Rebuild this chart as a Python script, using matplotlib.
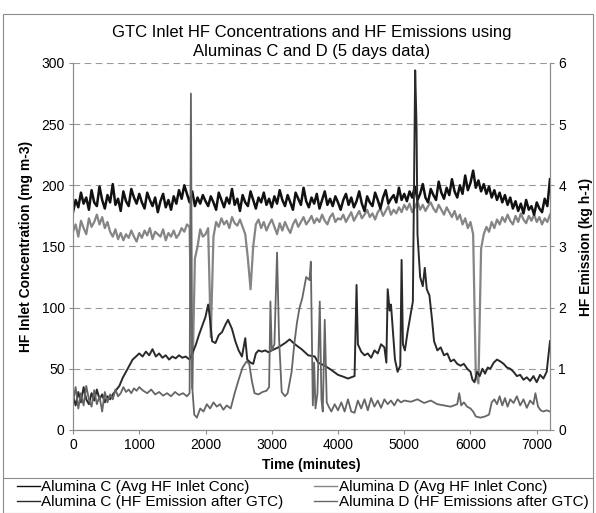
import numpy as np
import matplotlib
matplotlib.use("Agg")
import matplotlib.pyplot as plt
from matplotlib.lines import Line2D
from matplotlib.patches import Rectangle

plt.rcParams['font.family'] = ['Liberation Sans', 'DejaVu Sans']

# DATA
# inlet concentrations (mg m-3), one reading every 40 minutes
inlet_t = np.arange(0, 7201, 40)
inlet_c = [
    178, 188, 182, 194, 185, 190, 180, 196, 186, 183, 199, 188, 181, 192, 186, 201, 184, 189, 179, 195, 187, 183, 197, 190, 185, 193,
    186, 181, 194, 188, 183, 190, 178, 187, 193, 182, 188, 180, 191, 185, 196, 189, 200, 193, 186, 195, 183, 190, 185, 192, 187,
    183, 191, 186, 180, 194, 188, 182, 190, 185, 197, 184, 189, 179, 192, 186, 183, 195, 188, 181, 190, 186, 194, 184, 189, 182,
    191, 185, 196, 188, 183, 192, 186, 180, 194, 189, 184, 198, 187, 182, 190, 185, 193, 181, 188, 195, 184, 189, 183, 191, 186,
    180, 188, 193, 184, 190, 182, 187, 195, 185, 179, 191, 186, 183, 194, 188, 181, 190, 196, 185, 189, 192, 186, 198, 188, 193,
    187, 195, 190, 199, 188, 193, 201, 190, 186, 197, 192, 188, 203, 194, 189, 198, 192, 205, 195, 190, 200, 193, 208, 196, 202,
    212, 198, 204, 195, 201, 193, 199, 190, 196, 188, 194, 186, 192, 184, 190, 181, 187, 179, 185, 177, 188, 180, 183, 176, 186,
    181, 178, 189, 183, 205,
]
inlet_d = [
    162, 168, 158, 171, 165, 160, 173, 166, 170, 176, 168, 174, 165, 170, 162, 158, 164, 156, 161, 155, 160, 157, 163, 158, 154, 161,
    157, 163, 159, 165, 156, 162, 160, 158, 164, 155, 161, 158, 163, 157, 160, 165, 162, 168, 166, 34, 140, 150, 164, 158, 160,
    165, 76, 158, 170, 166, 173, 168, 171, 165, 174, 169, 167, 172, 166, 160, 140, 115, 150, 168, 172, 165, 170, 163, 168, 172,
    166, 160, 169, 163, 170, 165, 161, 168, 172, 166, 170, 174, 168, 171, 175, 169, 173, 170, 176, 171, 168, 174, 177, 170, 173,
    172, 176, 170, 174, 178, 171, 175, 179, 173, 176, 180, 174, 177, 172, 178, 181, 175, 179, 183, 176, 180, 177, 182, 178, 184,
    180, 185, 178, 182, 187, 180, 184, 179, 183, 186, 181, 178, 184, 180, 176, 182, 178, 174, 179, 172, 176, 168, 173, 165, 170,
    160, 45, 38, 148, 160, 166, 162, 170, 165, 172, 168, 174, 170, 176, 171, 168, 175, 170, 177, 172, 169, 175, 171, 176, 170,
    174, 168, 173, 170, 176,
]

# HF emissions after GTC (kg h-1)
emis_c_t = [
    0, 40, 80, 120, 160, 200, 240, 280, 320, 360,
    400, 440, 480, 520, 560, 600, 650, 700, 750, 800,
    850, 900, 950, 1000, 1050, 1100, 1150, 1200, 1250, 1300,
    1350, 1400, 1450, 1500, 1550, 1600, 1650, 1700, 1760, 1800,
    1850, 1900, 1950, 2000, 2040, 2070, 2100, 2150, 2200, 2250,
    2300, 2340, 2400, 2450, 2500, 2550, 2600, 2630, 2680, 2720,
    2760, 2800, 2850, 2900, 2950, 3000, 3100, 3200, 3270, 3350,
    3450, 3550, 3650, 3700, 3800, 3900, 4000, 4080, 4150, 4250,
    4280, 4300, 4350, 4400, 4450, 4500, 4550, 4600, 4650, 4700,
    4730, 4750, 4780, 4800, 4830, 4860, 4900, 4940, 4960, 4980,
    5010, 5050, 5090, 5130, 5165, 5185, 5200, 5240, 5280, 5310,
    5340, 5380, 5420, 5450, 5500, 5550, 5600, 5650, 5700, 5750,
    5800, 5850, 5900, 5950, 6000, 6030, 6060, 6100, 6140, 6180,
    6220, 6260, 6300, 6350, 6400, 6450, 6500, 6550, 6600, 6650,
    6700, 6750, 6800, 6850, 6900, 6950, 7000, 7050, 7100, 7150,
    7200,
]
emis_c = [
    0.55, 0.40, 0.62, 0.45, 0.70, 0.50, 0.42, 0.60, 0.48, 0.66,
    0.50, 0.58, 0.45, 0.55, 0.50, 0.58, 0.65, 0.72, 0.85, 0.95,
    1.05, 1.15, 1.20, 1.25, 1.20, 1.28, 1.22, 1.32, 1.20, 1.25,
    1.18, 1.22, 1.15, 1.20, 1.17, 1.22, 1.18, 1.20, 1.15, 1.25,
    1.38, 1.55, 1.70, 1.85, 2.05, 1.80, 1.45, 1.42, 1.55, 1.60,
    1.72, 1.80, 1.65, 1.45, 1.30, 1.20, 1.50, 1.15, 1.10, 1.08,
    1.25, 1.30, 1.28, 1.30, 1.27, 1.30, 1.35, 1.42, 1.48, 1.40,
    1.32, 1.22, 1.20, 1.10, 1.05, 0.98, 0.90, 0.87, 0.84, 0.88,
    2.37, 1.40, 1.28, 1.22, 1.25, 1.18, 1.30, 1.25, 1.40, 1.35,
    1.10, 2.30, 1.95, 2.05, 1.60, 1.15, 0.95, 1.05, 2.78, 1.40,
    1.30, 1.60, 1.85, 2.10, 5.88, 5.00, 3.20, 2.50, 2.35, 2.65,
    2.30, 2.20, 1.80, 1.45, 1.30, 1.35, 1.22, 1.25, 1.12, 1.15,
    1.08, 1.05, 1.08, 1.00, 0.95, 0.82, 0.78, 0.95, 0.88, 1.00,
    0.92, 1.02, 1.00, 1.10, 1.15, 1.12, 1.08, 1.02, 1.00, 0.95,
    0.88, 0.90, 0.82, 0.86, 0.80, 0.88, 0.78, 0.90, 0.84, 0.95,
    1.45,
]
emis_d_t = [
    0, 40, 80, 120, 160, 200, 240, 280, 320, 360,
    400, 440, 480, 520, 560, 600, 640, 680, 720, 760,
    800, 840, 880, 920, 960, 1000, 1060, 1120, 1180, 1240,
    1300, 1360, 1420, 1480, 1540, 1600, 1660, 1720, 1760, 1780,
    1800, 1830, 1870, 1920, 1970, 2020, 2070, 2120, 2170, 2220,
    2270, 2320, 2380, 2440, 2500, 2560, 2620, 2660, 2700, 2740,
    2800, 2860, 2920, 2960, 2980, 3000, 3040, 3080, 3110, 3150,
    3200, 3240, 3300, 3340, 3380, 3420, 3460, 3520, 3570, 3590,
    3620, 3640, 3660, 3690, 3725, 3750, 3770, 3800, 3830, 3860,
    3900, 3950, 4000, 4050, 4100, 4150, 4200, 4250, 4300, 4350,
    4400, 4450, 4500, 4550, 4600, 4650, 4700, 4750, 4800, 4850,
    4900, 4950, 5000, 5100, 5200, 5300, 5400, 5500, 5600, 5700,
    5800, 5830, 5860, 5900, 5950, 6000, 6040, 6080, 6150, 6220,
    6280, 6320, 6360, 6400, 6440, 6480, 6520, 6560, 6600, 6650,
    6700, 6750, 6800, 6850, 6900, 6950, 6980, 7020, 7060, 7100,
    7150, 7200,
]
emis_d = [
    0.45, 0.70, 0.35, 0.60, 0.40, 0.72, 0.50, 0.38, 0.65, 0.42,
    0.55, 0.30, 0.62, 0.45, 0.58, 0.50, 0.66, 0.55, 0.60, 0.70,
    0.62, 0.66, 0.60, 0.68, 0.64, 0.70, 0.64, 0.60, 0.66, 0.58,
    0.62, 0.56, 0.60, 0.55, 0.62, 0.57, 0.60, 0.55, 0.60, 5.50,
    0.70, 0.25, 0.20, 0.35, 0.30, 0.42, 0.35, 0.45, 0.38, 0.42,
    0.33, 0.40, 0.35, 0.60, 0.82, 1.02, 1.12, 1.08, 0.80, 0.60,
    0.58, 0.62, 0.64, 0.70, 2.10, 1.30, 1.40, 2.90, 1.50, 0.62,
    0.55, 0.60, 0.95, 1.40, 1.75, 2.00, 2.15, 2.50, 2.45, 2.75,
    0.40, 1.10, 0.35, 0.60, 2.10, 0.50, 0.30, 1.80, 0.45, 0.38,
    0.30, 0.42, 0.32, 0.45, 0.30, 0.50, 0.30, 0.28, 0.48, 0.35,
    0.50, 0.32, 0.52, 0.38, 0.48, 0.36, 0.50, 0.42, 0.48, 0.40,
    0.50, 0.45, 0.48, 0.46, 0.50, 0.44, 0.48, 0.42, 0.40, 0.38,
    0.42, 0.60, 0.40, 0.45, 0.38, 0.35, 0.30, 0.22, 0.20, 0.22,
    0.25, 0.45, 0.50, 0.42, 0.55, 0.40, 0.52, 0.38, 0.50, 0.44,
    0.55, 0.40, 0.50, 0.36, 0.48, 0.42, 0.60, 0.38, 0.32, 0.30,
    0.32, 0.30,
]

labels = ["Alumina C (Avg HF Inlet Conc)", "Alumina C (HF Emission after GTC)",
          "Alumina D (Avg HF Inlet Conc)", "Alumina D (HF Emissions after GTC)"]


# FIGURE
fig = plt.figure(figsize=(5.96, 5.13), dpi=100)
ax = fig.add_axes([0.1225, 0.162, 0.8003, 0.7152])
ax2 = ax.twinx()

# inlet concentrations on the left axis
l1, = ax.plot(inlet_t, inlet_c, color='#111111', lw=1.8, zorder=3)
l3, = ax.plot(inlet_t, inlet_d, color='#858585', lw=1.6, zorder=2)
# emissions on the right axis
l2, = ax2.plot(emis_c_t, emis_c, color='#2a2a2a', lw=1.4)
l4, = ax2.plot(emis_d_t, emis_d, color='#666666', lw=1.3)

ax.set_xlim(0, 7200)
ax.set_ylim(0, 300)
ax2.set_ylim(0, 6)
ax.set_xticks(range(0, 7001, 1000))
ax.set_yticks(range(0, 301, 50))
ax2.set_yticks(range(0, 7))
ax.yaxis.grid(True, ls=(0, (6, 4)), color='#999999', lw=0.8)

for a in (ax, ax2):
    a.spines['top'].set_visible(False)
    for s in ('left', 'right', 'bottom'):
        a.spines[s].set_color('#8c8c8c')
    a.tick_params(direction='out', length=3, color='#8c8c8c', labelsize=10, pad=3)

ax.set_title("GTC Inlet HF Concentrations and HF Emissions using\nAluminas C and D (5 days data)",
             fontsize=12, pad=5, linespacing=1.3)
ax.set_xlabel("Time (minutes)", fontsize=10, fontweight='bold', labelpad=4)
ax.set_ylabel("HF Inlet Concentration (mg m-3)", fontsize=10, fontweight='bold', labelpad=6)
ax2.set_ylabel("HF Emission (kg h-1)", fontsize=10, fontweight='bold', labelpad=9)

# legend box below the plot
leg_handles = [Line2D([], [], color=l.get_color(), lw=1.0) for l in (l1, l2, l3, l4)]
fig.legend(leg_handles, labels, ncol=2, loc='upper left', bbox_to_anchor=(0.0285, 0.064),
           frameon=False, fontsize=11.0, handlelength=1.5, handletextpad=0.1,
           labelspacing=0.08, columnspacing=2.0, borderaxespad=0, borderpad=0)
fig.add_artist(Line2D([0.005, 0.995], [0.068, 0.068], transform=fig.transFigure, color='#8c8c8c', lw=0.8))
fig.add_artist(Rectangle((0.005, 0.0), 0.99, 0.973, transform=fig.transFigure, fill=False,
                         edgecolor='#8c8c8c', lw=0.8))

fig.savefig("out.png", dpi=100)
